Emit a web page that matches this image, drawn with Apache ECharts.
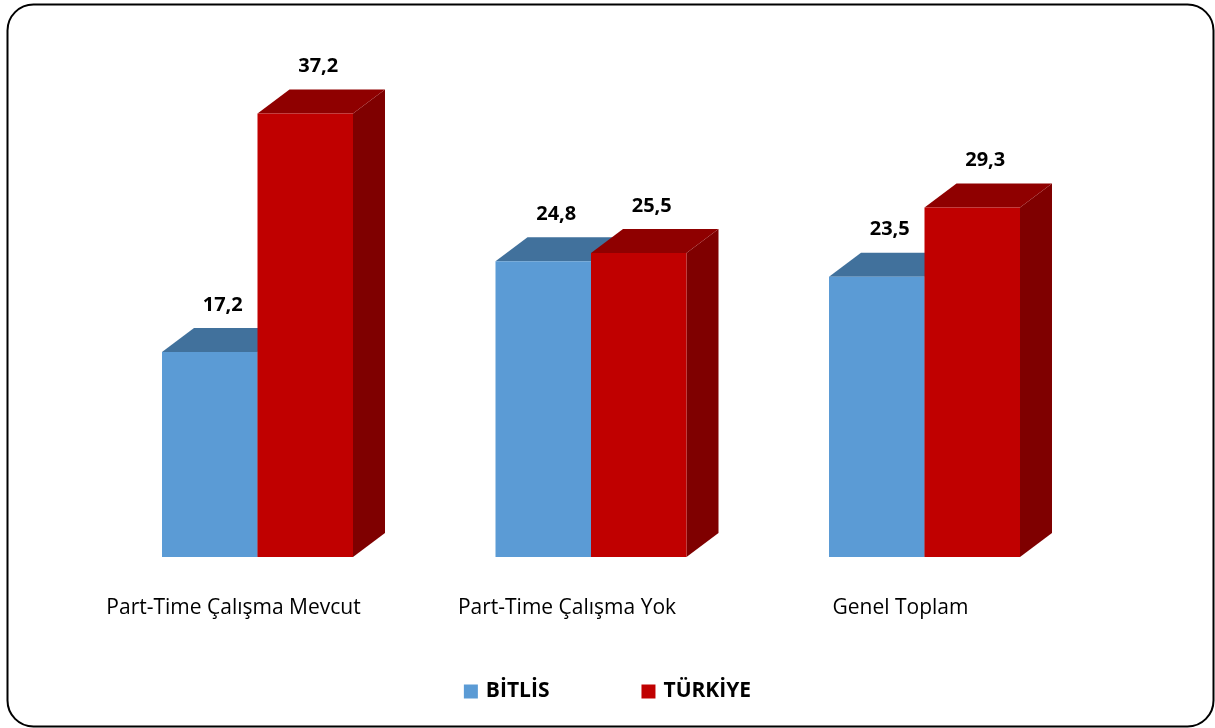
<!DOCTYPE html>
<html>
<head>
<meta charset="utf-8">
<script src="https://cdn.jsdelivr.net/npm/echarts@6/dist/echarts.min.js"></script>
<style>
html,body{margin:0;padding:0;background:#fff;}
#chart{width:1215px;height:728px;}
</style>
</head>
<body>
<div id="chart"></div>
<script>
const categories = ['Part-Time Çalışma Mevcut', 'Part-Time Çalışma Yok', 'Genel Toplam'];
const seriesNames = ['BİTLİS', 'TÜRKİYE'];
const bitlisValues = [17.2, 24.8, 23.5];
const turkiyeValues = [37.2, 25.5, 29.3];

const palettes = [
  { front: '#5B9BD5', top: '#41719C', side: '#3A6690' },
  { front: '#C00000', top: '#8F0000', side: '#7F0000' }
];
const DX = 32, DY = 24;
const BAR_RATIO = 95.5 / 333.5;

function makeRender(sIdx) {
  const pal = palettes[sIdx];
  return function (params, api) {
    const cat = api.value(0);
    const val = api.value(1);
    const topPt = api.coord([cat, val]);
    const basePt = api.coord([cat, 0]);
    const band = api.size([1, 0])[0];
    const w = band * BAR_RATIO;
    const x0 = topPt[0] - w + sIdx * w;
    const x1 = x0 + w;
    const yt = topPt[1], yb = basePt[1];
    const label = String(val).replace('.', ',');
    return {
      type: 'group',
      children: [
        { type: 'polygon', shape: { points: [[x1, yt], [x1 + DX, yt - DY], [x1 + DX, yb - DY], [x1, yb]] }, style: { fill: pal.side } },
        { type: 'polygon', shape: { points: [[x0, yt], [x0 + DX, yt - DY], [x1 + DX, yt - DY], [x1, yt]] }, style: { fill: pal.top } },
        { type: 'rect', shape: { x: x0, y: yt, width: w, height: yb - yt }, style: { fill: pal.front } },
        { type: 'text', x: (x0 + x1) / 2 + 13, y: yt - DY - 23, style: { text: label, fill: '#000', font: 'bold 20px "Open Sans"', align: 'center', verticalAlign: 'middle' } }
      ]
    };
  };
}

const chart = echarts.init(document.getElementById('chart'));
chart.setOption({
  animation: false,
  graphic: [{
    type: 'rect', left: 5, top: 2,
    shape: { width: 1206, height: 722, r: 26 },
    style: { fill: 'none', stroke: '#000', lineWidth: 2 }
  }],
  grid: { left: 90.75, right: 123.75, top: 80, bottom: 171 },
  legend: {
    bottom: 21,
    left: 'center',
    itemGap: 92,
    itemWidth: 14,
    itemHeight: 14,
    icon: 'rect',
    textStyle: { fontFamily: 'Open Sans', fontWeight: 'bold', fontSize: 21, color: '#000', padding: [0, 0, 0, 3] },
    data: [
      { name: seriesNames[0], itemStyle: { color: palettes[0].front } },
      { name: seriesNames[1], itemStyle: { color: palettes[1].front } }
    ]
  },
  xAxis: {
    type: 'category',
    data: categories,
    axisLine: { show: false },
    axisTick: { show: false },
    axisLabel: {
      margin: 41,
      fontFamily: 'Open Sans',
      fontSize: 21,
      color: '#000',
      padding: [0, 48, 0, 0]
    }
  },
  yAxis: {
    type: 'value', min: 0, max: 40, interval: 10,
    show: false, splitLine: { show: false }
  },
  series: [
    {
      name: seriesNames[0], type: 'custom', color: palettes[0].front,
      renderItem: makeRender(0),
      data: bitlisValues.map((v, i) => [i, v])
    },
    {
      name: seriesNames[1], type: 'custom', color: palettes[1].front,
      renderItem: makeRender(1),
      data: turkiyeValues.map((v, i) => [i, v])
    }
  ]
});
</script>
</body>
</html>
